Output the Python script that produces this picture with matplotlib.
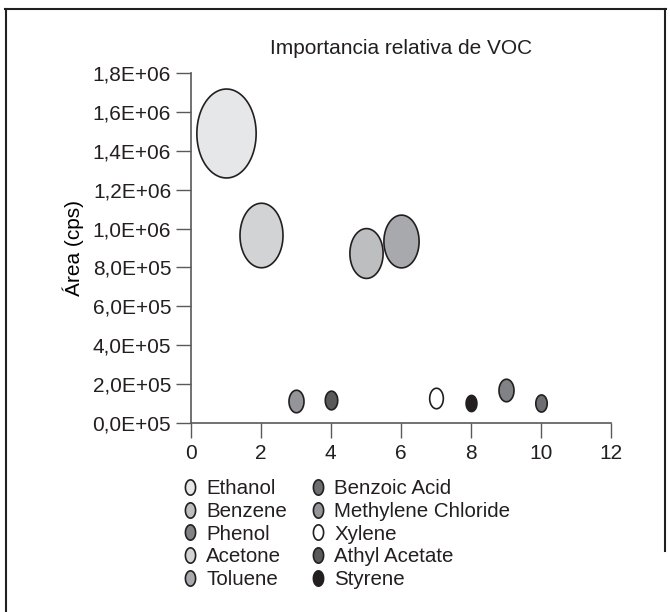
import matplotlib
matplotlib.use("Agg")
import matplotlib.pyplot as plt
import numpy as np
from matplotlib.path import Path
from matplotlib.lines import Line2D

plt.rcParams['font.family'] = ['Liberation Sans', 'DejaVu Sans']
plt.rcParams['text.color'] = '#231f20'

# Data (legend order)
compounds = ['Ethanol', 'Benzene', 'Phenol', 'Acetone', 'Toluene',
             'Benzoic Acid', 'Methylene Chloride', 'Xylene', 'Athyl Acetate', 'Styrene']
x_pos = [1, 5, 9, 2, 6, 10, 3, 7, 4, 8]
area_cps = [1.49e6, 0.872e6, 168e3, 0.969e6, 0.937e6, 104e3, 113e3, 127e3, 116e3, 102e3]
bubble_size = [100, 31.4, 6.4, 52.6, 35.2, 3.7, 6.4, 5.3, 4.4, 3.3]
colors = ['#e6e7e8', '#bcbec0', '#808285', '#d1d3d4', '#a7a9ac',
          '#6d6e71', '#939598', '#ffffff', '#58595b', '#231f20']

y_ticks = [0, 2e5, 4e5, 6e5, 8e5, 1.0e6, 1.2e6, 1.4e6, 1.6e6, 1.8e6]
y_ticklabels = ['0,0E+05', '2,0E+05', '4,0E+05', '6,0E+05', '8,0E+05',
                '1,0E+06', '1,2E+06', '1,4E+06', '1,6E+06', '1,8E+06']

# vertical ellipse marker (bubbles look stretched in the original)
t = np.linspace(0, 2 * np.pi, 100)
ellipse = Path(np.column_stack([np.cos(t) / 1.5, np.sin(t)]), closed=True)

fig = plt.figure(figsize=(6.7, 6.12), dpi=100)
ax = fig.add_axes([0.2846, 0.3088, 0.6269, 0.5719])

edge = '#231f20'
axis_col = '#58595b'
for xi, yi, si, ci in zip(x_pos, area_cps, bubble_size, colors):
    ax.scatter(xi, yi, s=si * 41, marker=ellipse, c=ci,
               edgecolors=edge, linewidths=1.2, zorder=3)

ax.set_xlim(0, 12)
ax.set_ylim(0, 1.8e6)
ax.set_xticks(range(0, 13, 2))
ax.set_yticks(y_ticks)
ax.set_yticklabels(y_ticklabels)
ax.tick_params(axis='y', direction='out', length=11, width=1.0, color=axis_col,
               labelsize=15, pad=3, labelcolor='#231f20')
ax.tick_params(axis='x', direction='out', length=11, width=1.0, color=axis_col,
               labelsize=15, pad=4, labelcolor='#231f20')
for s in ['top', 'right']:
    ax.spines[s].set_visible(False)
for s in ['left', 'bottom']:
    ax.spines[s].set_color(axis_col)
    ax.spines[s].set_linewidth(1.2)

ax.set_ylabel('Área (cps)', fontsize=15, labelpad=6)

fig.text(0.598, 0.921, 'Importancia relativa de VOC', fontsize=15,
         ha='center', va='center')

handles = [Line2D([0], [0], marker=ellipse, linestyle='None', markersize=11,
                  markerfacecolor=c, markeredgecolor=edge, markeredgewidth=1.2,
                  label=n)
           for n, c in zip(compounds, colors)]
leg = fig.legend(handles=handles, ncol=2, loc='upper left',
                 bbox_to_anchor=(0.274, 0.217), frameon=False,
                 fontsize=14.8, handlelength=0.6, handletextpad=0.5,
                 columnspacing=1.2, labelspacing=0.18, borderpad=0,
                 borderaxespad=0)

# outer frame of the original figure
fig.add_artist(Line2D([0.0096, 0.0096], [0.0, 0.985], color='#231f20', lw=1.5,
                      transform=fig.transFigure))
fig.add_artist(Line2D([0.0075, 0.994], [0.985, 0.985], color='#231f20', lw=1.5,
                      transform=fig.transFigure))
fig.add_artist(Line2D([0.992, 0.992], [0.985, 0.10], color='#231f20', lw=1.5,
                      transform=fig.transFigure))

fig.savefig('out.png', dpi=100, facecolor='white')
